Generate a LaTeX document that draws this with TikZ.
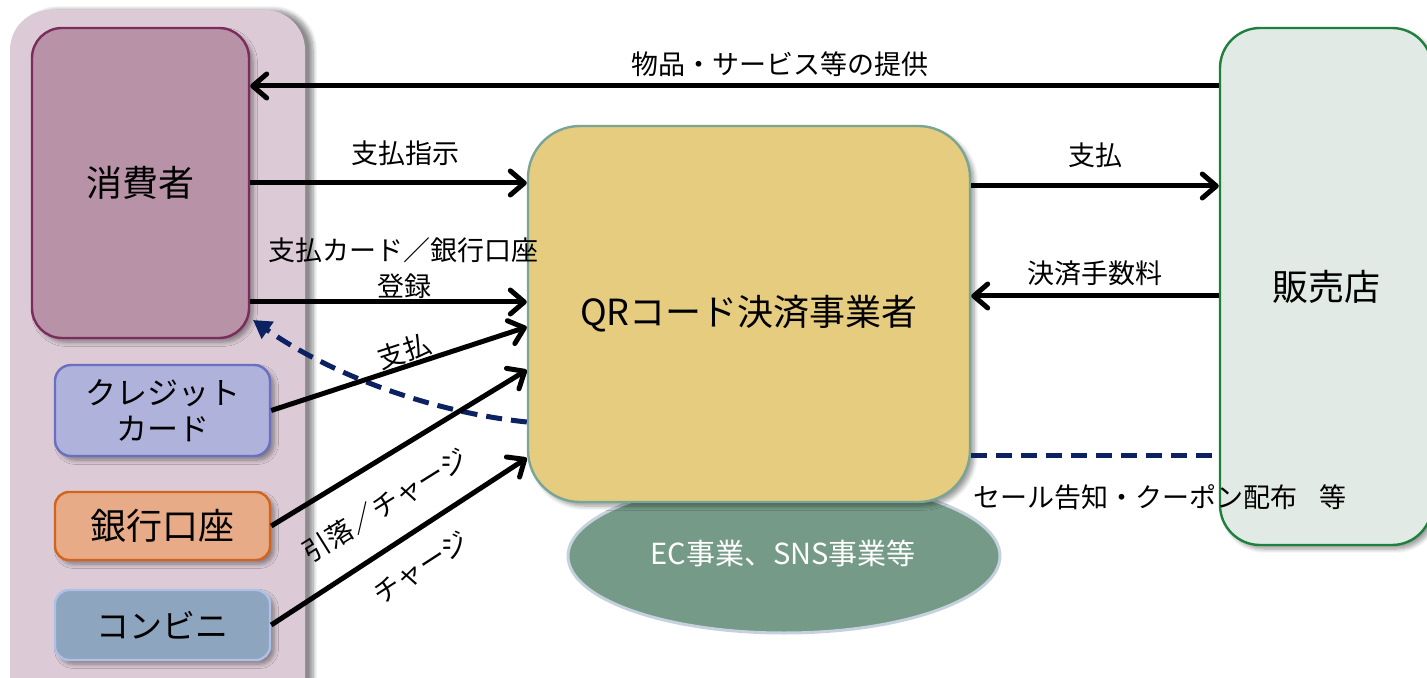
\documentclass[tikz,border=0pt]{standalone}
\usepackage{fontspec}
\setmainfont{Noto Sans CJK JP}
\usetikzlibrary{arrows.meta,shadows.blur,calc}
\definecolor{panelfill}{HTML}{DCCBD6}
\definecolor{consfill}{HTML}{B893A8}
\definecolor{consdraw}{HTML}{7B2C5C}
\definecolor{credfill}{HTML}{AFB2DB}
\definecolor{creddraw}{HTML}{6A70BF}
\definecolor{bankfill}{HTML}{E8AB87}
\definecolor{bankdraw}{HTML}{D2641E}
\definecolor{convfill}{HTML}{8DA5BF}
\definecolor{convdraw}{HTML}{AFC0E6}
\definecolor{qrfill}{HTML}{E6CC7E}
\definecolor{qrdraw}{HTML}{7AA596}
\definecolor{ecfill}{HTML}{759B88}
\definecolor{ecdraw}{HTML}{C5D2DE}
\definecolor{shopfill}{HTML}{E1EAE5}
\definecolor{shopdraw}{HTML}{1F7F3C}
\definecolor{navy}{HTML}{0B2162}
\tikzset{
  boxbase/.style={rectangle, line width=1.2pt, inner sep=2pt, align=center,
    blur shadow={shadow xshift=2pt, shadow yshift=-2pt, shadow blur steps=6, shadow opacity=40}},
  arr/.style={line width=2.5pt, -{Straight Barb[length=7pt,width=12pt,round]}},
  dashnavy/.style={line width=2.5pt, navy, dash pattern=on 8pt off 4.5pt},
  lbl/.style={font=\fontsize{13.5}{16}\selectfont, inner sep=1pt, align=center},
  bigtxt/.style={font=\fontsize{18}{22}\selectfont},
}
\begin{document}
\begin{tikzpicture}[x=0.5pt,y=-0.5pt]
\useasboundingbox (0,0) rectangle (1427,678);
% left panel
\node[rectangle, fill=panelfill, rounded corners=20pt, minimum width=147.5pt, minimum height=355pt,
  blur shadow={shadow xshift=4pt, shadow yshift=0pt, shadow blur steps=8, shadow opacity=45}] (panel) at (157.5,365) {};
% boxes
\node[boxbase, fill=consfill, draw=consdraw, rounded corners=15pt, minimum width=108.5pt, minimum height=155pt, bigtxt] (consumer) at (140.5,183) {消費者};
\node[boxbase, fill=credfill, draw=creddraw, rounded corners=8pt, minimum width=107.5pt, minimum height=45.5pt, font=\fontsize{15.5}{19}\selectfont] (credit) at (162.5,410.5) {クレジット\\[-1pt]カード};
\node[boxbase, fill=bankfill, draw=bankdraw, rounded corners=7pt, minimum width=107.5pt, minimum height=34pt, bigtxt] (bank) at (162.5,526) {銀行口座};
\node[boxbase, fill=convfill, draw=convdraw, rounded corners=7pt, minimum width=107.5pt, minimum height=35pt, font=\fontsize{16.5}{20}\selectfont] (conv) at (162.5,625) {コンビニ};
% EC ellipse
\draw[fill=ecfill, draw=ecdraw, line width=1.5pt] (784,556) ellipse [x radius=216, y radius=77];
\node[text=white, font=\fontsize{14.5}{17}\selectfont] (ec) at (783,553) {EC事業、SNS事業等};
% QR box
\node[boxbase, fill=qrfill, draw=qrdraw, rounded corners=26pt, minimum width=221pt, minimum height=188pt, bigtxt] (qr) at (749,314) {QRコード決済事業者};
% shop box
\node[boxbase, fill=shopfill, draw=shopdraw, rounded corners=20pt, minimum width=106pt, minimum height=258.5pt, bigtxt] (shop) at (1326,286.5) {販売店};
% arrows
\draw[arr] (shop.west |- 0,86) -- (consumer.east |- 0,86);
\node[lbl] (l1) at (780,64) {物品・サービス等の提供};
\draw[arr] (consumer.east |- 0,183) -- (qr.west |- 0,183);
\node[lbl] (l2) at (405,153) {支払指示};
\draw[arr] (consumer.east |- 0,302) -- (qr.west |- 0,302);
\node[lbl] (l3) at (403,250) {支払カード／銀行口座};
\node[lbl] (l3b) at (404,286) {登録};
\draw[arr] (qr.east |- 0,186) -- (shop.west |- 0,186);
\node[lbl] (l4) at (1095,155) {支払};
\draw[arr] (shop.west |- 0,296) -- (qr.east |- 0,296);
\node[lbl] (l5) at (1095,273) {決済手数料};
% dashed navy
\coordinate (dtip) at (253,320);
\draw[dashnavy, -{Triangle[length=9pt,width=10pt]}] (qr.west |- 0,422) .. controls (430,412) and (330,374) .. (dtip);
\draw[dashnavy] (qr.east |- 0,455) -- (shop.west |- 0,455);
\node[lbl] (l9) at (1160,497) {セール告知・クーポン配布\hspace{0.8em}等};
% diagonal arrows
\draw[arr] (credit.east) -- (qr.west |- 0,327);
\node[lbl, rotate=18] (l6) at (404,351) {支払};
\draw[arr] (bank.east) -- (qr.west |- 0,370);
\node[lbl, rotate=32] (l7) at (385,505) {引落／チャージ};
\draw[arr] (conv.east) -- (qr.west |- 0,458);
\node[lbl, rotate=33] (l8) at (421,568) {チャージ};
\end{tikzpicture}
\end{document}
